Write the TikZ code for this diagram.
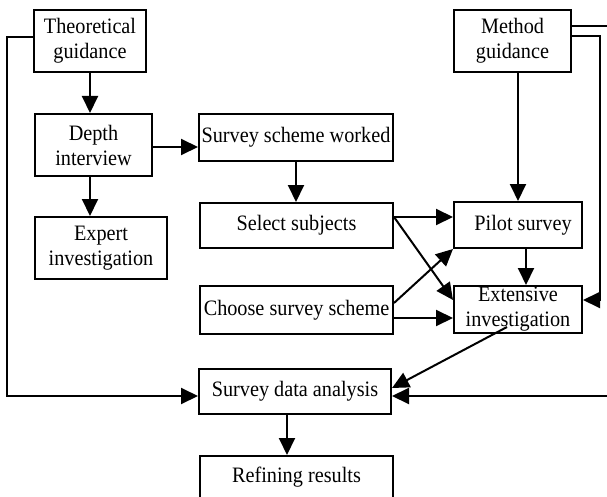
\documentclass[tikz,border=0pt]{standalone}
\usepackage{fontspec}
\setmainfont{Liberation Serif}[FakeStretch=0.92]
\usetikzlibrary{arrows.meta}
\begin{document}
\begin{tikzpicture}[x=1pt,y=-1pt,
  box/.style={draw,line width=2pt,inner sep=0pt,align=center,
    font=\fontsize{22}{25}\selectfont},
  arr/.style={line width=2pt,-{Triangle[length=17pt,width=16pt]}}]
\useasboundingbox[fill=white] (0,0) rectangle (607,497);
\node[box,minimum width=112pt,minimum height=62pt] (tg) at (90,41) {Theoretical\\guidance};
\node[box,minimum width=117pt,minimum height=62pt] (mg) at (512.5,41) {Method\\guidance};
\node[box,minimum width=117pt,minimum height=62pt] (di) at (93.5,145) {Depth\\interview};
\node[box,minimum width=194pt,minimum height=47pt] (ss) at (296,137.5) {Survey scheme worked};
\node[box,minimum width=132pt,minimum height=62pt] (ei) at (101,248) {Expert\\investigation};
\node[box,minimum width=193pt,minimum height=45pt] (sel) at (296.5,225.5) {Select subjects};
\node[box,minimum width=128pt,minimum height=46pt] (ps) at (518,225) {\hspace*{10pt}Pilot survey};
\node[box,minimum width=193pt,minimum height=48pt] (cs) at (296.5,310) {Choose survey scheme};
\node[box,minimum width=128pt,minimum height=47pt] (ex) at (518,309.5) {Extensive\\investigation};
\node[box,minimum width=192pt,minimum height=45pt] (sda) at (295,391.5) {Survey data analysis};
\node[box,minimum width=193pt,minimum height=46pt,text depth=0pt] (rr) at (296.5,479) {\raisebox{8pt}{Refining results}};
% arrows
\draw[arr] (tg.south) -- (tg.south |- di.north);
\draw[arr] (tg.south |- di.south) -- (tg.south |- ei.north);
\draw[arr] ([yshift=-2pt]di.east) -- ([yshift=-2pt]di.east -| ss.west);
\draw[arr] (ss.south) -- (ss.south |- sel.north);
\draw[arr] (ps.north |- mg.south) -- (ps.north);
\draw[arr] ([xshift=8pt]ps.south) -- ([xshift=8pt]ex.north);
\draw[arr] ([yshift=8.5pt]sel.east) -- ([yshift=8.5pt]sel.east -| ps.west);
\draw[arr] ([yshift=8.5pt]sel.east) -- ([yshift=9.5pt]ex.west);
\draw[arr] ([yshift=7pt]cs.east) -- (ps.south west);
\draw[arr] ([yshift=-8pt]cs.east) -- ([yshift=-8pt]cs.east -| ex.west);
\draw[arr] ([xshift=-11pt,yshift=7pt]ex.south) -- ([yshift=3.5pt]sda.east);
\draw[arr] ([xshift=-8pt]sda.south) -- ([xshift=-8pt]sda.south |- rr.north);
% feedback loops
\coordinate (lx) at (7,0);
\coordinate (rx) at (607.5,0);
\coordinate (mx) at (600,0);
\draw[arr] ([yshift=4pt]tg.west) -| ([yshift=-4.5pt]lx |- sda.west) -- ([yshift=-4.5pt]sda.west);
\draw[arr] ([yshift=15pt]mg.east) -| ([yshift=-4.5pt]rx |- sda.east) -- ([yshift=-4.5pt]sda.east);
\draw[arr] ([yshift=5pt]mg.east) -| ([yshift=9.5pt]mx |- ex.east) -- ([yshift=9.5pt]ex.east);
\end{tikzpicture}
\end{document}
